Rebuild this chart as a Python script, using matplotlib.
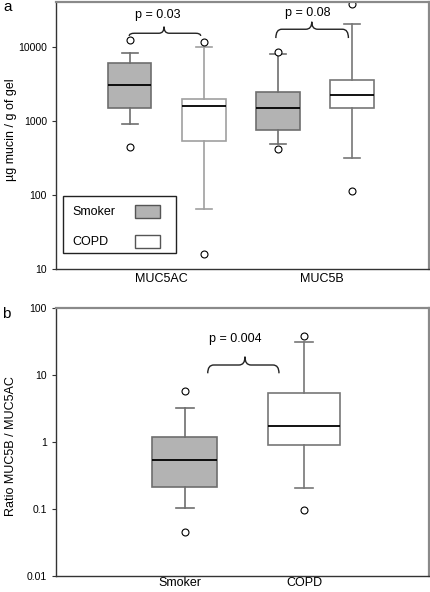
import matplotlib
matplotlib.use("Agg")
import matplotlib.pyplot as plt
from matplotlib.path import Path
from matplotlib.patches import PathPatch, Rectangle
from matplotlib.ticker import FixedLocator, FixedFormatter, NullLocator
import matplotlib.transforms as mtransforms

plt.rcParams['font.family'] = ['Liberation Sans', 'DejaVu Sans']

# ---------------- data ----------------
genes = ['MUC5AC', 'MUC5B']
groups = ['Smoker', 'COPD']

# five-number summaries: whisker low, Q1, median, Q3, whisker high
muc5ac_smoker = [900, 1470, 3060, 5960, 8300]
muc5ac_smoker_out = [446, 12400]
muc5ac_copd = [65, 526, 1563, 1980, 10000]
muc5ac_copd_out = [16, 11400]
muc5b_smoker = [489, 756, 1484, 2415, 7950]
muc5b_smoker_out = [410, 8380]
muc5b_copd = [310, 1470, 2245, 3510, 20000]
muc5b_copd_out = [112, 37300]

ratio_smoker = [0.104, 0.21, 0.544, 1.19, 3.27]
ratio_smoker_out = [0.045, 5.8]
ratio_copd = [0.205, 0.89, 1.71, 5.47, 31.4]
ratio_copd_out = [0.097, 38.5]

p_values_a = ['p = 0.03', 'p = 0.08']
p_value_b = 'p = 0.004'

yticks_a = [10, 100, 1000, 10000]
yticks_b = [0.01, 0.1, 1, 10, 100]


def stats(five, out):
    return dict(whislo=five[0], q1=five[1], med=five[2], q3=five[3],
                whishi=five[4], fliers=out)


FILL = {'Smoker': '#b3b3b3', 'COPD': '#ffffff'}
EDGE = '#7a7a7a'


def draw_boxes(ax, st, pos, widths, grp, capw, edges):
    for s, p, w, g, ec in zip(st, pos, widths, grp, edges):
        ax.bxp([s], positions=[p], widths=w, patch_artist=True,
               showfliers=True, capwidths=capw,
               boxprops=dict(facecolor=FILL[g], edgecolor=ec, linewidth=1.2),
               medianprops=dict(color='black', linewidth=1.3),
               whiskerprops=dict(color=ec, linewidth=1.2),
               capprops=dict(color=ec, linewidth=1.2),
               flierprops=dict(marker='o', markerfacecolor='white',
                               markeredgecolor='black', markersize=5,
                               markeredgewidth=0.8))


def brace(ax, x0, x1, xm, yend, yline, ytip, r):
    tr = mtransforms.blended_transform_factory(ax.transData, ax.transAxes)
    verts = [(x0, yend), (x0, yline), (x0 + r, yline),
             (xm - r, yline), (xm, yline), (xm, ytip),
             (xm, yline), (xm + r, yline),
             (x1 - r, yline), (x1, yline), (x1, yend)]
    codes = [Path.MOVETO, Path.CURVE3, Path.CURVE3,
             Path.LINETO, Path.CURVE3, Path.CURVE3,
             Path.CURVE3, Path.CURVE3,
             Path.LINETO, Path.CURVE3, Path.CURVE3]
    ax.add_patch(PathPatch(Path(verts, codes), transform=tr, fill=False,
                           edgecolor='#222222', linewidth=1.0, clip_on=False))


def style_axes(ax, xpad):
    for side in ['top', 'right']:
        ax.spines[side].set_color('#8a8a8a')
        ax.spines[side].set_linewidth(1.6)
    for side in ['left', 'bottom']:
        ax.spines[side].set_color('#333333')
        ax.spines[side].set_linewidth(1.0)
    ax.tick_params(axis='y', direction='out', length=3, width=0.8,
                   labelsize=7.5, colors='#333333', labelcolor='black')
    ax.tick_params(axis='x', length=0, labelsize=9, pad=xpad)
    ax.yaxis.set_minor_locator(NullLocator())


fig = plt.figure(figsize=(4.30, 5.92), dpi=100)

# ---------------- panel a ----------------
axa = fig.add_axes([0.130, 0.5456, 0.868, 0.451])
axa.set_yscale('log')
st_a = [stats(muc5ac_smoker, muc5ac_smoker_out), stats(muc5ac_copd, muc5ac_copd_out),
        stats(muc5b_smoker, muc5b_smoker_out), stats(muc5b_copd, muc5b_copd_out)]
grp_a = [groups[0], groups[1], groups[0], groups[1]]
pos_a = [1, 2, 3, 4]
draw_boxes(axa, st_a, pos_a, [0.58, 0.6, 0.6, 0.6], grp_a, 0.22,
           ['#6e6e6e', '#a0a0a0', '#6e6e6e', '#777777'])
axa.set_xlim(0, 5.04)
axa.set_ylim(10, 40000)
axa.yaxis.set_major_locator(FixedLocator(yticks_a))
axa.yaxis.set_major_formatter(FixedFormatter([str(v) for v in yticks_a]))
axa.set_xticks([1.43, 3.59])
axa.set_xticklabels(genes)
style_axes(axa, 3)
axa.set_ylabel('\u00b5g mucin / g of gel', fontsize=9)
axa.yaxis.set_label_coords(-0.105, 0.52)

brace(axa, 0.99, 1.955, 1.46, 0.873, 0.883, 0.9075, 0.07)
axa.text(1.374, 0.951, p_values_a[0], transform=mtransforms.blended_transform_factory(
    axa.transData, axa.transAxes), ha='center', va='center', fontsize=9)
brace(axa, 2.97, 3.95, 3.455, 0.865, 0.898, 0.926, 0.08)
axa.text(3.395, 0.958, p_values_a[1], transform=mtransforms.blended_transform_factory(
    axa.transData, axa.transAxes), ha='center', va='center', fontsize=9)

# manual legend
axa.add_patch(Rectangle((0.0196, 0.061), 0.302, 0.212, transform=axa.transAxes,
                        facecolor='white', edgecolor='#222222', linewidth=1.0, zorder=5))
leg_y = [0.2146, 0.1022]
for g, yy in zip(groups, leg_y):
    axa.text(0.043, yy, g, transform=axa.transAxes, ha='left', va='center',
             fontsize=9, zorder=6)
    axa.add_patch(Rectangle((0.2118, yy - 0.024), 0.067, 0.048, transform=axa.transAxes,
                            facecolor=FILL[g], edgecolor='#555555', linewidth=1.0,
                            zorder=6))

# ---------------- panel b ----------------
axb = fig.add_axes([0.130, 0.0275, 0.868, 0.4517])
axb.set_yscale('log')
st_b = [stats(ratio_smoker, ratio_smoker_out), stats(ratio_copd, ratio_copd_out)]
draw_boxes(axb, st_b, [1, 2], [0.545, 0.61], groups, 0.15,
           ['#6e6e6e', '#777777'])
axb.set_xlim(-0.079, 3.048)
axb.set_ylim(0.01, 100)
axb.yaxis.set_major_locator(FixedLocator(yticks_b))
axb.yaxis.set_major_formatter(FixedFormatter([('%g' % v) for v in yticks_b]))
axb.set_xticks([0.96, 2.0])
axb.set_xticklabels(groups)
style_axes(axb, 1)
axb.set_ylabel('Ratio MUC5B / MUC5AC', fontsize=9)
axb.yaxis.set_label_coords(-0.105, 0.486)

brace(axb, 1.193, 1.79, 1.505, 0.757, 0.788, 0.819, 0.05)
axb.text(1.424, 0.884, p_value_b, transform=mtransforms.blended_transform_factory(
    axb.transData, axb.transAxes), ha='center', va='center', fontsize=9)

fig.text(8 / 430, 1 - 7 / 592, 'a', fontsize=11, ha='center', va='center')
fig.text(6 / 430, 1 - 314 / 592, 'b', fontsize=11, ha='center', va='center')

fig.savefig('out.png', dpi=100)
